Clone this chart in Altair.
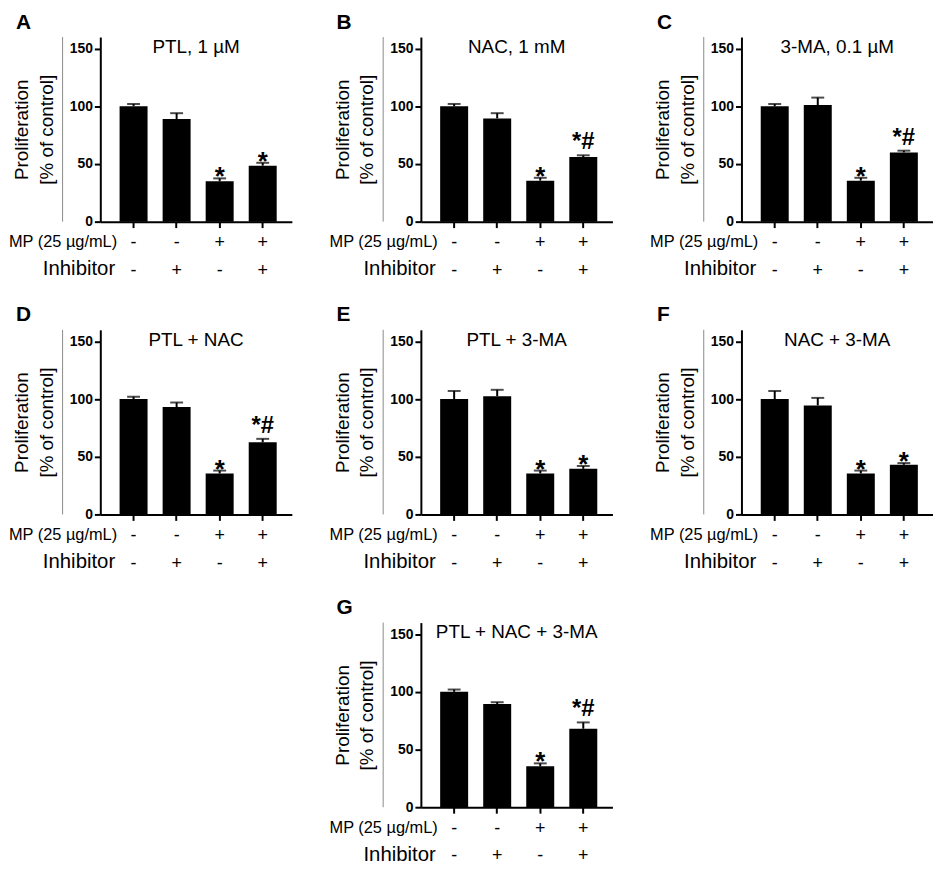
import altair as alt
import pandas as pd

# ---------------- data ----------------
panel_letters = ["A", "B", "C", "D", "E", "F", "G"]
panel_titles = ["PTL, 1 µM", "NAC, 1 mM", "3-MA, 0.1 µM", "PTL + NAC",
                "PTL + 3-MA", "NAC + 3-MA", "PTL + NAC + 3-MA"]
row_labels = ["MP (25 µg/mL)", "Inhibitor"]
mp_signs = ["-", "-", "+", "+"]
inhibitor_signs = ["-", "+", "-", "+"]
y_ticks = [0, 50, 100, 150]

mean_A = [100, 89, 35, 48.5]
err_A = [2, 5, 2.5, 2.5]
sig_A = ["", "", "*", "*"]

mean_B = [100, 89.5, 35.5, 56]
err_B = [2, 4.5, 2.5, 1.5]
sig_B = ["", "", "*", "*#"]

mean_C = [100, 101, 35.5, 60]
err_C = [2, 6.5, 2.5, 1.5]
sig_C = ["", "", "*", "*#"]

mean_D = [100, 93, 35.5, 62.5]
err_D = [2, 4, 2.5, 3]
sig_D = ["", "", "*", "*#"]

mean_E = [100, 102.5, 35.5, 39.5]
err_E = [7, 5.5, 2.5, 2.5]
sig_E = ["", "", "*", "*"]

mean_F = [100, 94.5, 35.5, 43]
err_F = [7, 6.5, 2.5, 1.5]
sig_F = ["", "", "*", "*"]

mean_G = [100, 89.5, 35.5, 68]
err_G = [2, 1.5, 2.5, 5.5]
sig_G = ["", "", "*", "*#"]

means = [mean_A, mean_B, mean_C, mean_D, mean_E, mean_F, mean_G]
errs = [err_A, err_B, err_C, err_D, err_E, err_F, err_G]
sigs = [sig_A, sig_B, sig_C, sig_D, sig_E, sig_F, sig_G]

# ---------------- layout ----------------
W, H = 193, 186
FONT = "Liberation Sans"
conds = [m + "|" + i for m, i in zip(mp_signs, inhibitor_signs)]
xscale = alt.Scale(paddingInner=0.35, paddingOuter=0.4, align=0.56)


def xenc(with_axis=False):
    if with_axis:
        return alt.X(
            "cond:N", sort=conds, scale=xscale,
            axis=alt.Axis(title=None, labelExpr="split(datum.label, '|')",
                          labelAngle=0, labelFontSize=18, labelLineHeight=28,
                          labelBaseline="alphabetic", labelPadding=20,
                          tickSize=6, tickWidth=2, domainWidth=2,
                          domainColor="black", tickColor="black",
                          labelColor="black", labelFont=FONT),
        )
    return alt.X("cond:N", sort=conds, scale=xscale)


def panel(letter, title, mean, err, sig):
    df = pd.DataFrame({"cond": conds, "mean": mean, "err": err, "sig": sig})
    base = alt.Chart(df).transform_calculate(top="datum.mean + datum.err")

    ys = alt.Y(
        "mean:Q", scale=alt.Scale(domain=[0, 150]),
        axis=alt.Axis(values=y_ticks, title=["Proliferation", "[% of control]"],
                      titleFontSize=19, titleFontWeight="normal",
                      titleLineHeight=25, titlePadding=13, titleFont=FONT,
                      titleColor="black",
                      labelFontWeight="bold", labelFontSize=14, labelFont=FONT,
                      labelColor="black", labelPadding=2,
                      tickSize=6, tickWidth=2, domainWidth=2,
                      domainColor="black", tickColor="black", grid=False),
    )

    bars = base.mark_bar(color="black").encode(x=xenc(True), y=ys)
    stem = base.mark_rule(color="black", strokeWidth=2).encode(
        x=xenc(), y="mean:Q", y2="top:Q")
    cap = base.mark_tick(color="black", thickness=2, size=13).encode(
        x=xenc(), y="top:Q")
    star = base.transform_filter("datum.sig == '*'").mark_text(
        fontSize=26, fontWeight="bold", baseline="alphabetic", dy=7,
        font=FONT, color="black").encode(x=xenc(), y="top:Q", text="sig:N")
    starhash = base.transform_filter("datum.sig == '*#'").mark_text(
        fontSize=24, fontWeight="bold", baseline="alphabetic", dy=-6,
        font=FONT, color="black").encode(x=xenc(), y="top:Q", text="sig:N")

    ttl = alt.Chart(pd.DataFrame({"t": [title]})).mark_text(
        fontSize=19, font=FONT, baseline="middle", align="center",
        color="black").encode(text="t:N", x=alt.value(W / 2), y=alt.value(10))

    mp_lab = alt.Chart(pd.DataFrame({"r": [row_labels[0]]})).mark_text(
        fontSize=16.5, font=FONT, align="right", baseline="alphabetic",
        color="black").encode(text="r:N", x=alt.value(17), y=alt.value(H + 26))
    inh_lab = alt.Chart(pd.DataFrame({"r": [row_labels[1]]})).mark_text(
        fontSize=20.5, font=FONT, align="right", baseline="alphabetic",
        color="black").encode(text="r:N", x=alt.value(15), y=alt.value(H + 54))

    grey = alt.Chart(pd.DataFrame({"r": [0]})).mark_rule(
        color="#8a8a8a", strokeWidth=1).encode(
        x=alt.value(-38), y=alt.value(0), y2=alt.value(H))

    return alt.layer(bars, stem, cap, star, starhash, ttl, mp_lab, inh_lab, grey).properties(
        width=W, height=H,
        title=alt.TitleParams(letter, anchor="start", frame="group", dx=-85,
                              fontSize=21, fontWeight="bold", font=FONT,
                              color="black", offset=4),
    )


panels = [panel(l, t, m, e, s) for l, t, m, e, s in
          zip(panel_letters, panel_titles, means, errs, sigs)]

blank = alt.Chart(pd.DataFrame({"v": [0]})).mark_point(opacity=0).encode(
    x=alt.X("v:Q", axis=None), y=alt.Y("v:Q", axis=None)).properties(width=10, height=10)

items = panels[:6] + [blank, panels[6]]
chart = alt.concat(*items, columns=3, spacing={"row": 24, "column": 37}).properties(
    padding=0, background="white"
).configure_view(stroke="transparent", strokeWidth=0)

chart.save("out.html", embed_options={"renderer": "svg", "actions": False})
